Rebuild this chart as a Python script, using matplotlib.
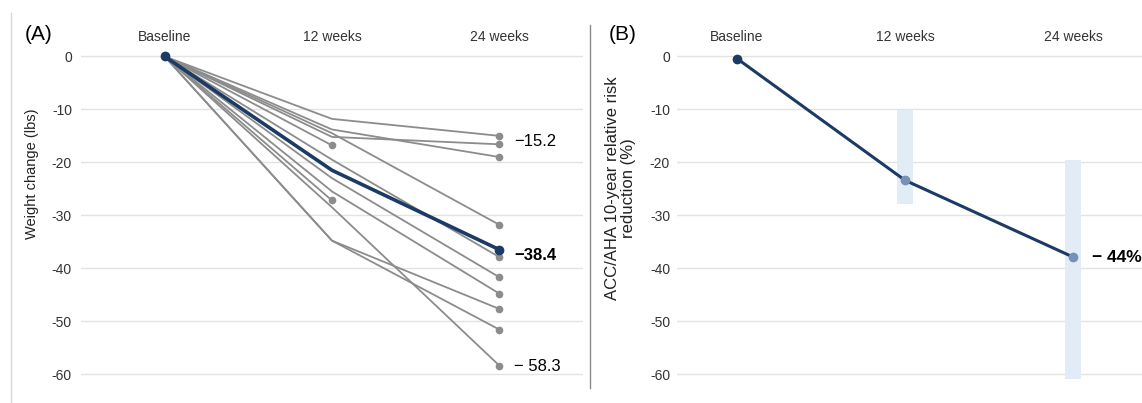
import matplotlib
matplotlib.use("Agg")
import matplotlib.pyplot as plt
import numpy as np

plt.rcParams['font.family'] = ['Liberation Sans', 'DejaVu Sans']

# data
timepoints = ["Baseline", "12 weeks", "24 weeks"]

# (A) individual weight change (lbs); nan = no 24-week value
wk12 = [-11.8, -15.2, -13.8, -14.5, -19.5, -23.0, -25.5, -34.8, -34.8, -28.5, -16.8, -27.2]
wk24 = [-15.0, -16.6, -19.0, -31.8, -37.9, -41.7, -44.8, -47.7, -51.6, -58.4, np.nan, np.nan]
mean_a = [0, -21.5, -36.5]
labels_a = ["\u221215.2", "\u221238.4", "\u2212 58.3"]
label_y_a = [-16.0, -37.6, -58.5]
label_bold_a = [False, True, False]

# (B) ACC/AHA 10-year relative risk reduction (%)
risk = [-0.4, -23.4, -37.9]
band_lo = [np.nan, -27.8, -60.9]
band_hi = [np.nan, -10.1, -19.6]
label_b = "\u2212 44%"

navy = "#1c3a66"
gray = "#8c8c8c"
grid = "#e3e3e3"
tick_col = "#333333"

fig = plt.figure(figsize=(11.42, 4.03), dpi=100)
axA = fig.add_axes([0.0709, 0.0062, 0.4396, 0.880])
axB = fig.add_axes([0.5928, 0.0062, 0.4072, 0.880])

x = np.arange(3)
for a, b in zip(wk12, wk24):
    ys = [0, a, b]
    axA.plot(x, ys, color=gray, lw=1.3, zorder=2)
    if np.isnan(b):
        axA.plot(x[1], a, 'o', color=gray, ms=4.5, zorder=2)
    else:
        axA.plot(x[2], b, 'o', color=gray, ms=4.5, zorder=2)
axA.plot(x, mean_a, color=navy, lw=2.6, zorder=3)
axA.plot([x[0], x[2]], [mean_a[0], mean_a[2]], 'o', color=navy, ms=6, zorder=4)
for t, yy, bold in zip(labels_a, label_y_a, label_bold_a):
    axA.text(x[2] + 0.09, yy, t, fontsize=12, va='center', ha='left',
             fontweight='bold' if bold else 'normal', color='black')

axB.bar(x, np.array(band_hi) - np.array(band_lo), bottom=band_lo, width=0.1,
        color="#e2ecf6", zorder=1)
axB.plot(x, risk, color=navy, lw=2.2, zorder=3)
axB.plot(x[0], risk[0], 'o', color=navy, ms=6, zorder=4)
axB.plot(x[1:], risk[1:], 'o', color="#7592b4", ms=6, zorder=4)
axB.text(x[2] + 0.11, risk[2], label_b, fontsize=12.5, fontweight='bold',
         va='center', ha='left')

for ax in (axA, axB):
    ax.set_ylim(-65, 2)
    ax.set_yticks(np.arange(0, -61, -10))
    ax.set_yticklabels([str(v) for v in range(0, -61, -10)])
    ax.set_xticks(x)
    ax.set_xticklabels(timepoints)
    ax.xaxis.tick_top()
    ax.tick_params(axis='x', length=0, pad=1.5, labelsize=10, colors=tick_col)
    ax.tick_params(axis='y', length=0, labelsize=10, colors=tick_col)
    ax.grid(axis='y', color=grid, lw=1)
    ax.set_axisbelow(True)
    for s in ax.spines.values():
        s.set_visible(False)

axA.set_xlim(-0.5, 2.5)
axB.set_xlim(-0.357, 2.41)
axA.tick_params(axis='y', pad=6.5)
axB.tick_params(axis='y', pad=5)

axA.set_ylabel("Weight change (lbs)", fontsize=10.5, color='#222222')
axA.yaxis.set_label_coords(-0.084, 0.64)
axB.set_ylabel("ACC/AHA 10-year relative risk\nreduction (%)", fontsize=12,
               color='#222222', linespacing=1.1)
axB.yaxis.set_label_coords(-0.088, 0.60)

fig.text(25 / 1142, 1 - 35 / 403, "(A)", fontsize=15, va='center', ha='left')
fig.text(609 / 1142, 1 - 35 / 403, "(B)", fontsize=15, va='center', ha='left')

# panel separators
fig.add_artist(plt.Line2D([11 / 1142, 11 / 1142], [0, 1 - 13 / 403],
                          color="#d9d9d9", lw=1))
fig.add_artist(plt.Line2D([590 / 1142, 590 / 1142], [1 - 388 / 403, 1 - 25 / 403],
                          color="#8a8a8a", lw=1))

fig.savefig("out.png", dpi=100)
